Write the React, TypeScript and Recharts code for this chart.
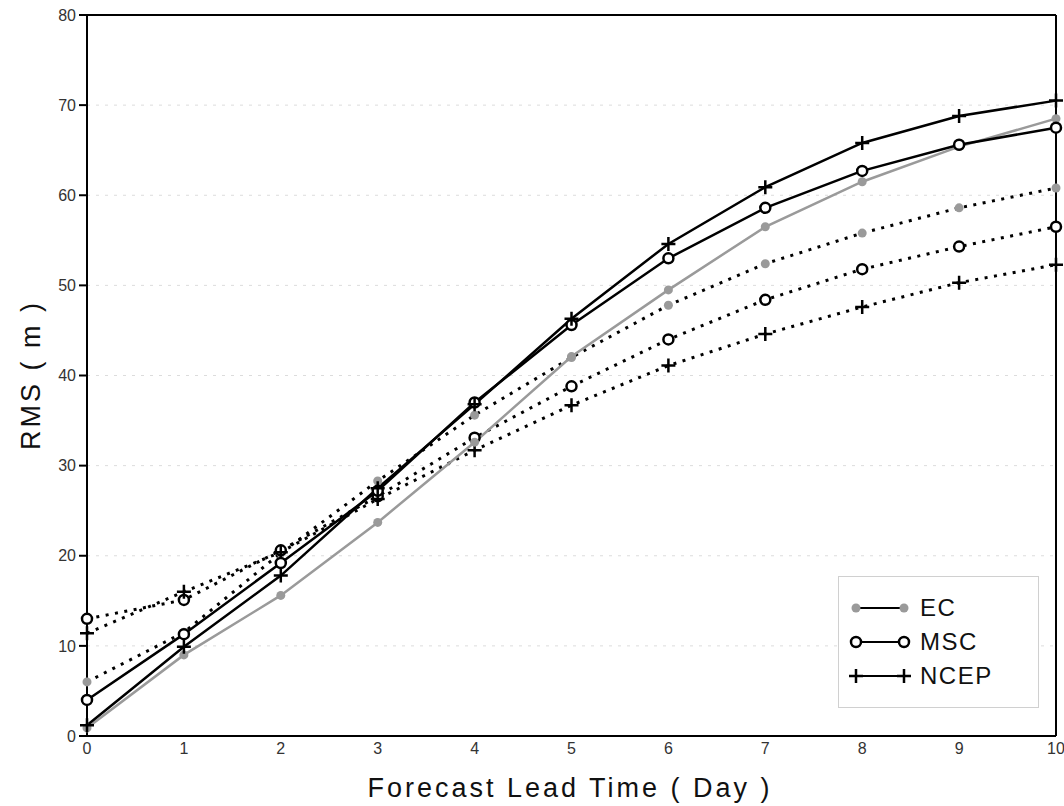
import React from 'react';
import { LineChart, Line, XAxis, YAxis, CartesianGrid, ReferenceLine } from 'recharts';

const days = [0, 1, 2, 3, 4, 5, 6, 7, 8, 9, 10];

// solid lines
const ecSolid = [0.9, 9.0, 15.6, 23.7, 32.6, 42.1, 49.5, 56.5, 61.5, 65.4, 68.5];
const mscSolid = [4.0, 11.3, 19.2, 27.2, 37.0, 45.6, 53.0, 58.6, 62.7, 65.6, 67.5];
const ncepSolid = [1.2, 9.9, 17.8, 27.5, 36.8, 46.3, 54.6, 60.9, 65.8, 68.8, 70.5];

// dotted lines
const ecDotted = [6.0, 11.5, 20.3, 28.3, 35.6, 42.0, 47.8, 52.4, 55.8, 58.6, 60.8];
const mscDotted = [13.0, 15.1, 20.6, 26.6, 33.1, 38.8, 44.0, 48.4, 51.8, 54.3, 56.5];
const ncepDotted = [11.4, 16.0, 20.4, 26.3, 31.7, 36.7, 41.1, 44.6, 47.6, 50.3, 52.3];

const yTicks = [0, 10, 20, 30, 40, 50, 60, 70, 80];
const legendNames = ['EC', 'MSC', 'NCEP'];
const legendMarkers = ['ec', 'msc', 'ncep'];

const data = days.map((d, i) => ({
  day: d,
  ecSolid: ecSolid[i],
  mscSolid: mscSolid[i],
  ncepSolid: ncepSolid[i],
  ecDotted: ecDotted[i],
  mscDotted: mscDotted[i],
  ncepDotted: ncepDotted[i],
}));

const FONT = '"Liberation Sans", Arial, sans-serif';
const GRAY = '#9a9a9a';
const DOTS = '3 6.5';

function marker(kind: string, cx: number, cy: number, key?: string) {
  if (kind === 'ec') return <circle key={key} cx={cx} cy={cy} r={4.5} fill={GRAY} stroke="none" />;
  if (kind === 'msc')
    return <circle key={key} cx={cx} cy={cy} r={5} fill="#fff" stroke="#000" strokeWidth={2.5} />;
  return (
    <path
      key={key}
      d={`M${cx - 7},${cy}H${cx + 7}M${cx},${cy - 7}V${cy + 7}`}
      stroke="#000"
      strokeWidth={2.5}
      fill="none"
    />
  );
}

const dotFor = (kind: string) => (props: any) => {
  const { cx, cy, index } = props;
  if (cx == null || cy == null) return <g key={`${kind}-${index}`} />;
  return marker(kind, cx, cy, `${kind}-${props.dataKey}-${index}`);
};

function LegendBox() {
  return (
    <div
      style={{
        position: 'absolute',
        left: 838,
        top: 576,
        width: 201,
        height: 132,
        border: '1px solid #d0d0d0',
        background: '#fff',
        boxSizing: 'border-box',
        paddingTop: 14,
        fontFamily: FONT,
      }}
    >
      {legendNames.map((name, i) => (
        <div key={name} style={{ display: 'flex', alignItems: 'center', height: 34 }}>
          <svg width={70} height={20} style={{ marginLeft: 9 }}>
            <line x1={8} y1={10} x2={56} y2={10} stroke="#000" strokeWidth={2} />
            {marker(legendMarkers[i], 8, 10)}
            {marker(legendMarkers[i], 56, 10)}
          </svg>
          <span style={{ fontSize: 24, color: '#111', marginLeft: 2, letterSpacing: 1.5 }}>{name}</span>
        </div>
      ))}
    </div>
  );
}

export default function App() {
  return (
    <div style={{ position: 'absolute', left: 0, top: 0, width: 1064, height: 806, background: '#fff' }}>
      <LineChart width={1064} height={806} data={data} margin={{ top: 15, right: 8, bottom: 0, left: 0 }}>
        <CartesianGrid
          horizontal
          vertical={false}
          stroke="#dcdcdc"
          strokeDasharray="3 6"
          horizontalValues={[10, 20, 30, 40, 50, 60, 70]}
        />
        <XAxis
          dataKey="day"
          type="number"
          domain={[0, 10]}
          ticks={days}
          height={70}
          stroke="#000"
          strokeWidth={2}
          tickLine={false}
          tickSize={4}
          tickMargin={3}
          tick={{ fontSize: 16, fill: '#333', fontFamily: FONT }}
          label={{
            content: () => (
              <text x={570} y={797} textAnchor="middle" fontSize={27} fill="#111" fontFamily={FONT} letterSpacing={3}>
                Forecast Lead Time ( Day )
              </text>
            ),
          }}
        />
        <YAxis
          type="number"
          domain={[0, 80]}
          ticks={yTicks}
          width={87}
          stroke="#000"
          strokeWidth={2}
          tickSize={8}
          tickMargin={3}
          tick={{ fontSize: 16, fill: '#333', fontFamily: FONT }}
          label={{
            content: () => (
              <text
                x={33}
                y={375}
                textAnchor="middle"
                fontSize={27}
                fill="#111"
                fontFamily={FONT}
                letterSpacing={3}
                transform="rotate(-90 33 375)"
                dominantBaseline="middle"
              >
                RMS ( m )
              </text>
            ),
          }}
        />
        <ReferenceLine y={80} stroke="#000" strokeWidth={2} />
        <ReferenceLine x={10} stroke="#000" strokeWidth={2} />

        <Line dataKey="ecDotted" stroke="#000" strokeWidth={3} strokeDasharray={DOTS} dot={dotFor('ec')} isAnimationActive={false} />
        <Line dataKey="mscDotted" stroke="#000" strokeWidth={3} strokeDasharray={DOTS} dot={dotFor('msc')} isAnimationActive={false} />
        <Line dataKey="ncepDotted" stroke="#000" strokeWidth={3} strokeDasharray={DOTS} dot={dotFor('ncep')} isAnimationActive={false} />
        <Line dataKey="ecSolid" stroke={GRAY} strokeWidth={2.5} dot={dotFor('ec')} isAnimationActive={false} />
        <Line dataKey="mscSolid" stroke="#000" strokeWidth={2.5} dot={dotFor('msc')} isAnimationActive={false} />
        <Line dataKey="ncepSolid" stroke="#000" strokeWidth={2.5} dot={dotFor('ncep')} isAnimationActive={false} />
      </LineChart>
      <LegendBox />
    </div>
  );
}
